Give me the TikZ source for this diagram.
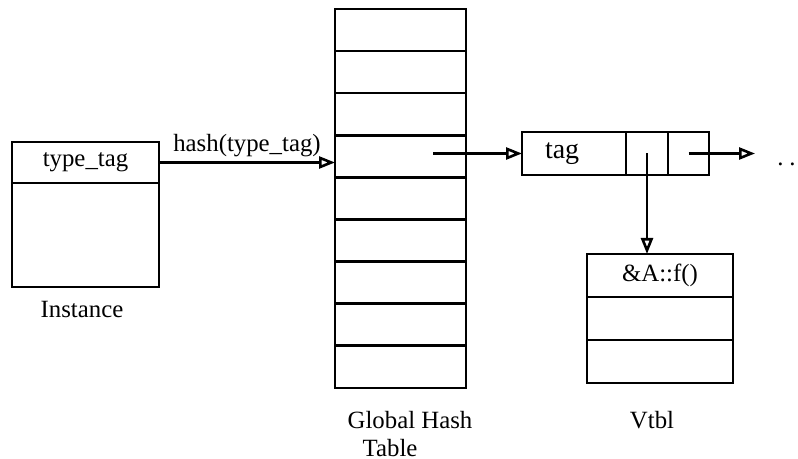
\documentclass[tikz,border=0pt]{standalone}
\usepackage{fontspec}
\setmainfont{Liberation Serif}
\usetikzlibrary{arrows.meta,positioning}

\begin{document}
\begin{tikzpicture}[x=0.5pt, y=-0.5pt, line width=1.3pt,
    >={Triangle[open,length=8pt,width=6pt]},
    font=\fontsize{12.4}{15}\selectfont,
    cell/.style={draw, outer sep=0pt, inner sep=0pt}]
    \useasboundingbox (0,0) rectangle (798,459);

    % instance
    \node[cell, minimum width=73.5pt, minimum height=20.5pt] (typetag) at (85.5,162.5) {type\_tag};
    \node[cell, minimum width=73.5pt, minimum height=52pt, below=0pt of typetag] (instbody) {};
    \node (instlbl) at (82,310) {Instance};

    % global hash table
    \foreach \i in {1,...,9}
        \node[cell, minimum width=65.5pt, minimum height=21.05pt] (hash\i) at (400.5,{9+42.1*(\i-0.5)}) {};
    \node[align=left, font=\fontsize{12.4}{14}\selectfont] (hashlbl) at (410,434) {Global Hash\\\hspace*{7.5pt}Table};

    \draw[->] (typetag.east) -- node[above, inner sep=2pt] (hashfn) {hash(type\_tag)} (typetag.east -| hash1.west);

    % list entry
    \node[cell, minimum width=52pt, minimum height=21.5pt, text width=29pt, inner xsep=11.5pt,
          align=left, font=\fontsize{14}{16}\selectfont] (tag) at (574,153.5) {tag};
    \node[cell, minimum width=21pt, minimum height=21.5pt, right=0pt of tag] (link1) {};
    \node[cell, minimum width=20.5pt, minimum height=21.5pt, right=0pt of link1] (link2) {};

    \coordinate (slot) at (433,153.5);
    \draw[->] (slot) -- (tag.west);

    \coordinate (more) at (755,153.5);
    \draw[->] (link2.center) -- (more);
    \node[anchor=base west, inner sep=0pt] (dots) at (776,166) {.\hspace{3pt}.};

    % vtbl
    \foreach \i/\t in {1/{\&A::f()},2/{},3/{}}
        \node[cell, minimum width=73pt, minimum height=21.5pt] (vtbl\i) at (660,{254+43*(\i-0.5)}) {\t};
    \node (vtbllbl) at (652,420) {Vtbl};

    \draw[->] (link1.center) -- (link1.center |- vtbl1.north);
\end{tikzpicture}
\end{document}
